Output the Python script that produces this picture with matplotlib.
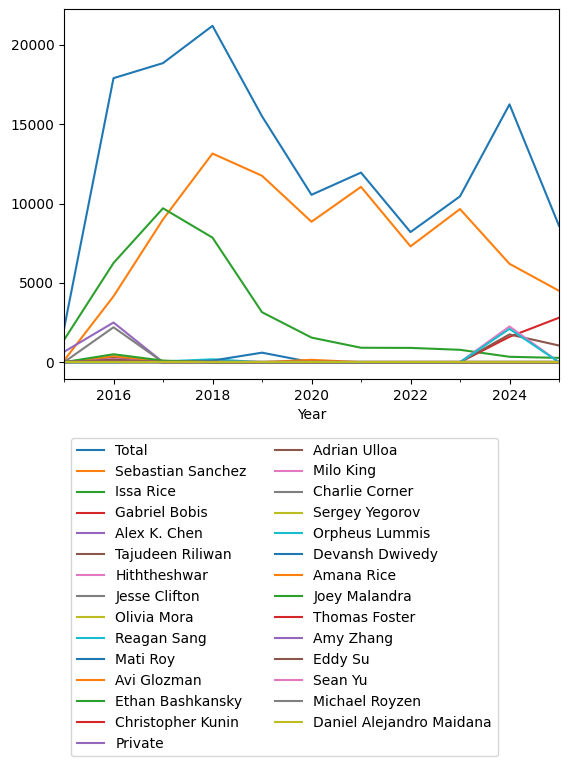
import numpy as np
import matplotlib
matplotlib.use('Agg')
import matplotlib.pyplot as plt
from matplotlib.ticker import FixedLocator


years = list(range(2015, 2026))

names = [
    'Total', 'Sebastian Sanchez', 'Issa Rice', 'Gabriel Bobis', 'Alex K. Chen',
    'Tajudeen Riliwan', 'Hiththeshwar', 'Jesse Clifton', 'Olivia Mora',
    'Reagan Sang', 'Mati Roy', 'Avi Glozman', 'Ethan Bashkansky',
    'Christopher Kunin', 'Private', 'Adrian Ulloa', 'Milo King',
    'Charlie Corner', 'Sergey Yegorov', 'Orpheus Lummis', 'Devansh Dwivedy',
    'Amana Rice', 'Joey Malandra', 'Thomas Foster', 'Amy Zhang', 'Eddy Su',
    'Sean Yu', 'Michael Royzen', 'Daniel Alejandro Maidana',
]

# donations per year (0 where the line sits on the axis)
total = [2100, 17900, 18850, 21200, 15500, 10550, 11950, 8200, 10450, 16250, 8600]
sebastian_sanchez = [100, 4150, 9000, 13150, 11750, 8850, 11050, 7300, 9650, 6200, 4500]
issa_rice = [1400, 6250, 9700, 7850, 3150, 1550, 910, 900, 780, 340, 270]
gabriel_bobis = [0, 0, 0, 0, 0, 0, 0, 0, 0, 1600, 2800]
alex_k_chen = [650, 2500, 0, 0, 0, 0, 0, 0, 0, 0, 0]
tajudeen_riliwan = [0, 300, 50, 0, 0, 0, 0, 0, 0, 1750, 1050]
hiththeshwar = [0, 200, 0, 0, 0, 0, 0, 0, 0, 2250, 0]
jesse_clifton = [0, 2200, 0, 0, 0, 0, 0, 0, 0, 0, 0]
olivia_mora = [0, 0, 0, 0, 0, 0, 0, 0, 0, 0, 0]
reagan_sang = [0, 0, 50, 180, 0, 0, 0, 0, 0, 0, 0]
mati_roy = [0, 0, 0, 100, 600, 0, 0, 0, 0, 0, 0]
avi_glozman = [0, 380, 80, 0, 0, 150, 0, 0, 0, 0, 0]
ethan_bashkansky = [0, 500, 100, 0, 0, 0, 0, 0, 0, 0, 0]
christopher_kunin = [0, 100, 0, 0, 0, 0, 0, 0, 0, 0, 0]
private = [0, 150, 0, 0, 0, 0, 0, 0, 0, 0, 0]
adrian_ulloa = [0, 150, 0, 0, 0, 0, 0, 0, 0, 0, 0]
milo_king = [0, 0, 0, 0, 0, 0, 0, 0, 0, 0, 0]
charlie_corner = [0, 0, 0, 0, 0, 0, 0, 0, 0, 0, 0]
sergey_yegorov = [0, 0, 0, 0, 0, 0, 0, 0, 0, 0, 0]
orpheus_lummis = [0, 0, 0, 0, 0, 0, 0, 0, 0, 2100, 0]
devansh_dwivedy = [0, 0, 0, 0, 0, 0, 0, 0, 0, 0, 0]
amana_rice = [0, 0, 0, 0, 0, 0, 0, 0, 0, 0, 0]
joey_malandra = [0, 0, 0, 0, 0, 0, 0, 0, 0, 0, 0]
thomas_foster = [0, 0, 0, 0, 0, 0, 0, 0, 0, 0, 0]
amy_zhang = [0, 0, 0, 0, 0, 0, 0, 0, 0, 0, 0]
eddy_su = [0, 0, 0, 0, 0, 0, 0, 0, 0, 0, 0]
sean_yu = [0, 0, 0, 0, 0, 0, 0, 0, 0, 0, 0]
michael_royzen = [0, 0, 0, 0, 0, 0, 0, 0, 0, 0, 0]
daniel_alejandro_maidana = [0, 0, 0, 0, 0, 0, 0, 0, 0, 0, 0]

series = [
    total, sebastian_sanchez, issa_rice, gabriel_bobis, alex_k_chen,
    tajudeen_riliwan, hiththeshwar, jesse_clifton, olivia_mora, reagan_sang,
    mati_roy, avi_glozman, ethan_bashkansky, christopher_kunin, private,
    adrian_ulloa, milo_king, charlie_corner, sergey_yegorov, orpheus_lummis,
    devansh_dwivedy, amana_rice, joey_malandra, thomas_foster, amy_zhang,
    eddy_su, sean_yu, michael_royzen, daniel_alejandro_maidana,
]

W, H = 569, 766
fig = plt.figure(figsize=(W / 100, H / 100), dpi=100)
ax = fig.add_axes([64 / W, (H - 379) / H, 495 / W, 370 / H])

for name, vals in zip(names, series):
    ax.plot(years, vals, label=name)

ax.set_xlim(2015, 2025)
ax.xaxis.set_major_locator(FixedLocator([2016, 2018, 2020, 2022, 2024]))
ax.xaxis.set_minor_locator(FixedLocator([2015, 2017, 2019, 2021, 2023, 2025]))
ax.set_xlabel('Year')

fig.legend(loc='upper left', bbox_to_anchor=(71 / W, 1 - 438 / H), ncol=2,
           borderaxespad=0)

fig.savefig('out.png', dpi=100)
